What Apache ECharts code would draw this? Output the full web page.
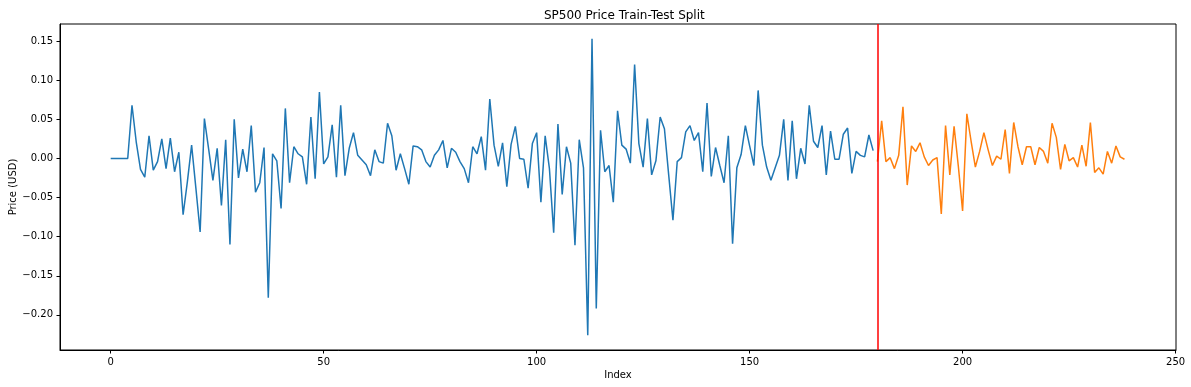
<!DOCTYPE html>
<html>
<head>
<meta charset="utf-8">
<script src="https://cdn.jsdelivr.net/npm/echarts@6/dist/echarts.min.js"></script>
<style>html,body{margin:0;padding:0;background:#fff}#c{width:1191px;height:387px}</style>
</head>
<body>
<div id="c"></div>
<script>
const trainValues = [
 0, 0, 0, 0, 0, 0.068, 0.021, -0.014, -0.024, 0.029,
 -0.015, -0.004, 0.025, -0.013, 0.026, -0.017, 0.008, -0.072, -0.030, 0.017,
 -0.038, -0.094, 0.051, 0.012, -0.028, 0.013, -0.060, 0.024, -0.110, 0.050,
 -0.025, 0.012, -0.017, 0.042, -0.043, -0.031, 0.014, -0.178, 0.006, -0.003,
 -0.064, 0.064, -0.031, 0.015, 0.006, 0.002, -0.033, 0.053, -0.026, 0.085,
 -0.007, 0.002, 0.043, -0.024, 0.068, -0.022, 0.013, 0.033, 0.004, -0.002,
 -0.008, -0.022, 0.011, -0.004, -0.006, 0.045, 0.029, -0.015, 0.006, -0.013,
 -0.033, 0.016, 0.015, 0.011, -0.004, -0.011, 0.004, 0.011, 0.023, -0.012,
 0.013, 0.008, -0.004, -0.013, -0.031, 0.015, 0.006, 0.028, -0.015, 0.076,
 0.017, -0.010, 0.020, -0.036, 0.018, 0.041, 0.000, -0.001, -0.038, 0.019,
 0.033, -0.056, 0.029, -0.013, -0.095, 0.044, -0.046, 0.015, -0.006, -0.111,
 0.024, -0.012, -0.226, 0.153, -0.192, 0.036, -0.017, -0.009, -0.056, 0.061,
 0.017, 0.012, -0.006, 0.120, 0.019, -0.011, 0.051, -0.021, -0.003, 0.053,
 0.038, -0.021, -0.079, -0.004, 0.001, 0.034, 0.042, 0.023, 0.033, -0.017,
 0.071, -0.023, 0.014, -0.009, -0.031, 0.029, -0.109, -0.012, 0.005, 0.042,
 0.016, -0.009, 0.087, 0.017, -0.011, -0.028, -0.012, 0.004, 0.050, -0.028,
 0.048, -0.026, 0.013, -0.007, 0.068, 0.022, 0.014, 0.042, -0.021, 0.035,
 -0.001, -0.001, 0.031, 0.039, -0.019, 0.009, 0.004, 0.002, 0.030, 0.010
];
const testValues = [
 -0.004, 0.048, -0.004, 0.001, -0.013, 0.004, 0.066, -0.034, 0.016, 0.009,
 0.020, 0.002, -0.009, -0.002, 0.001, -0.071, 0.042, -0.021, 0.041, -0.010,
 -0.067, 0.057, 0.022, -0.011, 0.009, 0.033, 0.011, -0.009, 0.003, -0.001,
 0.037, -0.019, 0.046, 0.015, -0.008, 0.015, 0.015, -0.008, 0.014, 0.009,
 -0.006, 0.045, 0.027, -0.014, 0.018, -0.003, 0.001, -0.011, 0.017, -0.010,
 0.046, -0.018, -0.012, -0.020, 0.009, -0.006, 0.016, 0.002, -0.001
];
const splitIndex = 180;
const xTicks = [0, 50, 100, 150, 200, 250];
const yTicks = [-0.20, -0.15, -0.10, -0.05, 0.00, 0.05, 0.10, 0.15];

const trainData = trainValues.map((v, i) => [i, v]);
const testData = testValues.map((v, i) => [splitIndex + i, v]);

const all = trainValues.concat(testValues);
const nX = all.length - 1;
const xMin = -0.05 * nX, xMax = 250.1;
const yLo = Math.min(...all), yHi = Math.max(...all);
const yMin = yLo - 0.05 * (yHi - yLo), yMax = yHi + 0.05 * (yHi - yLo);

const font = 'DejaVu Sans';
const minus = s => s.replace('-', '\u2212');

const chart = echarts.init(document.getElementById('c'), null, {renderer: 'canvas'});
chart.setOption({
  animation: false,
  backgroundColor: '#ffffff',
  textStyle: {fontFamily: font},
  title: {
    text: 'SP500 Price Train-Test Split',
    left: 539, top: 5,
    textStyle: {fontFamily: font, fontSize: 12, fontWeight: 'normal', color: '#000'}
  },
  grid: {left: 60, right: 15, top: 24, bottom: 37, show: true, borderColor: '#000', borderWidth: 1,
    backgroundColor: 'transparent', containLabel: false, outerBoundsMode: 'none'},
  xAxis: {
    type: 'value', min: xMin, max: xMax,
    name: 'Index', nameLocation: 'middle', nameGap: 20, nameMoveOverlap: false,
    nameTextStyle: {fontFamily: font, fontSize: 10, color: '#000'},
    axisLine: {show: true, onZero: false, lineStyle: {color: '#000', width: 1}},
    axisTick: {show: true, length: 3.5, lineStyle: {color: '#000'}, customValues: xTicks},
    axisLabel: {margin: 7, fontFamily: font, fontSize: 10, color: '#000', customValues: xTicks,
      formatter: v => minus(String(v))},
    splitLine: {show: false}
  },
  yAxis: {
    type: 'value', min: yMin, max: yMax,
    name: 'Price (USD)', nameLocation: 'middle', nameGap: 42, nameRotate: 90, nameMoveOverlap: false,
    nameTextStyle: {fontFamily: font, fontSize: 10, color: '#000'},
    axisLine: {show: true, onZero: false, lineStyle: {color: '#000', width: 1}},
    axisTick: {show: true, length: 3.5, lineStyle: {color: '#000'}, customValues: yTicks},
    axisLabel: {margin: 7, fontFamily: font, fontSize: 10, color: '#000', customValues: yTicks,
      formatter: v => minus(v.toFixed(2))},
    splitLine: {show: false}
  },
  series: [
    {
      type: 'line', data: trainData, showSymbol: false, symbol: 'none',
      lineStyle: {color: '#1f77b4', width: 1.5}, itemStyle: {color: '#1f77b4'}, z: 2
    },
    {
      type: 'line', data: testData, showSymbol: false, symbol: 'none',
      lineStyle: {color: '#ff7f0e', width: 1.5}, itemStyle: {color: '#ff7f0e'}, z: 2,
      markLine: {
        silent: true, symbol: ['none', 'none'], label: {show: false},
        lineStyle: {color: '#ff0000', width: 1.5, type: 'solid'},
        data: [{xAxis: splitIndex}], animation: false
      }
    }
  ]
});
</script>
</body>
</html>
